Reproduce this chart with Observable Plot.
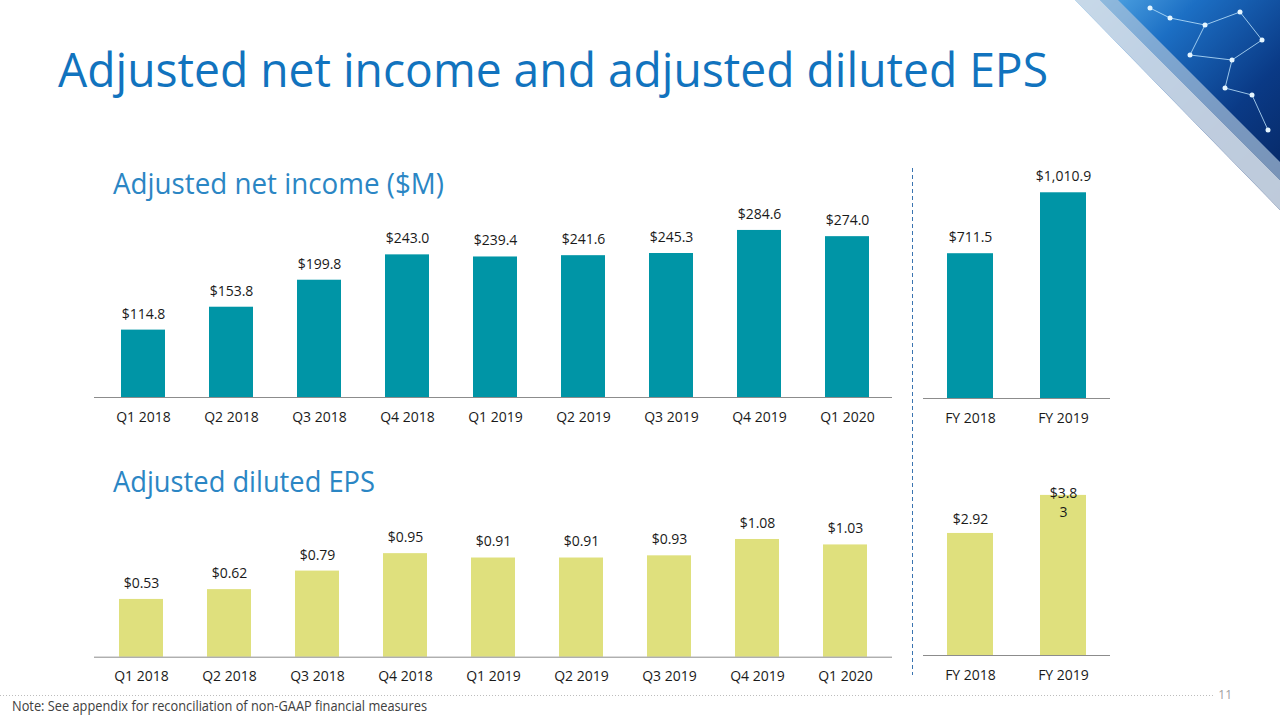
<!DOCTYPE html>
<html>
<head>
<meta charset="utf-8">
<script src="https://cdn.jsdelivr.net/npm/d3@7"></script>
<script src="https://cdn.jsdelivr.net/npm/@observablehq/plot@0.6"></script>
<style>
  html, body { margin: 0; padding: 0; background: #fff; }
  #stage { position: relative; width: 1280px; height: 720px; overflow: hidden; background: #fff; font-family: "Open Sans", sans-serif; }
  .chart { position: absolute; }
  #overlay { position: absolute; left: 0; top: 0; }
</style>
</head>
<body>
<div id="stage">
  <svg id="overlay" width="1280" height="720"></svg>
</div>
<script>
// ---- data ----
const quarters = ["Q1 2018", "Q2 2018", "Q3 2018", "Q4 2018", "Q1 2019", "Q2 2019", "Q3 2019", "Q4 2019", "Q1 2020"];
const netIncomeQ = [114.8, 153.8, 199.8, 243.0, 239.4, 241.6, 245.3, 284.6, 274.0];
const years = ["FY 2018", "FY 2019"];
const netIncomeFY = [711.5, 1010.9];
const epsQ = [0.53, 0.62, 0.79, 0.95, 0.91, 0.91, 0.93, 1.08, 1.03];
const epsFY = [2.92, 3.83];
const epsFYLabels = ["$2.92", "$3.8\n3"];

const titleText = "Adjusted net income and adjusted diluted EPS";
const subtitleNI = "Adjusted net income ($M)";
const subtitleEPS = "Adjusted diluted EPS";
const noteText = "Note: See appendix for reconciliation of non-GAAP financial measures";
const pageNumber = "11";

const TEAL = "#0095A6";
const LIME = "#DFE07D";
const fmtM = v => "$" + d3.format(",.1f")(v);
const fmtE = v => "$" + d3.format(".2f")(v);

const stage = document.getElementById("stage");

function barChart({cats, vals, labels, fill, left, top, width, height, xRange, pad, base, ymax, k, labelDy, tickDy, labelFilter, extraMarks}) {
  const data = cats.map((c, i) => ({cat: c, value: vals[i], label: labels[i]}));
  const chart = Plot.plot({
    width, height,
    marginLeft: 0, marginRight: 0, marginTop: 0, marginBottom: 0,
    style: {fontFamily: "Open Sans", fontSize: "14px", color: "#1a1a1a", background: "transparent", overflow: "visible"},
    x: {domain: cats, range: xRange, paddingInner: pad, paddingOuter: pad / 2, label: null, axis: null},
    y: {domain: [0, ymax], range: [base, base - ymax * k], axis: null},
    marks: [
      Plot.barY(data, {x: "cat", y: "value", fill}),
      Plot.ruleY([0], {stroke: "#8c8c8c", strokeWidth: 1}),
      // category tick labels under the baseline
      Plot.text(data, {x: "cat", y: () => 0, text: "cat", dy: tickDy, lineAnchor: "middle", fontSize: 14, fill: "#1a1a1a"}),
      Plot.text(labelFilter ? data.filter(labelFilter) : data, {x: "cat", y: "value", text: "label", dy: labelDy, lineAnchor: "middle", fontSize: 14, fill: "#1a1a1a"}),
      ...(extraMarks ? extraMarks(data) : [])
    ]
  });
  chart.classList.add("chart");
  chart.style.left = left + "px";
  chart.style.top = top + "px";
  stage.appendChild(chart);
}

// Quarterly net income
barChart({cats: quarters, vals: netIncomeQ, labels: netIncomeQ.map(fmtM), fill: TEAL,
  left: 94, top: 180, width: 798, height: 260, xRange: [4.5, 797], pad: 0.495,
  base: 217, ymax: 300, k: 0.587, labelDy: -16, tickDy: 20});

// FY net income
barChart({cats: years, vals: netIncomeFY, labels: netIncomeFY.map(fmtM), fill: TEAL,
  left: 923, top: 150, width: 187, height: 290, xRange: [0.5, 186.5], pad: 0.505,
  base: 248, ymax: 1100, k: 0.2035, labelDy: -16, tickDy: 20});

// Quarterly EPS
barChart({cats: quarters, vals: epsQ, labels: epsQ.map(fmtE), fill: LIME,
  left: 94, top: 500, width: 798, height: 190, xRange: [0.2, 797.3], pad: 0.495,
  base: 156.7, ymax: 1.2, k: 109, labelDy: -16, tickDy: 19});

// FY EPS
barChart({cats: years, vals: epsFY, labels: epsFYLabels, fill: LIME,
  left: 923, top: 470, width: 187, height: 220, xRange: [0.5, 186.5], pad: 0.505,
  base: 185, ymax: 4, k: 41.8, labelDy: -14, tickDy: 20, labelFilter: d => d.cat === "FY 2018",
  extraMarks: data => [
    Plot.text(data.filter(d => d.cat === "FY 2019"), {x: "cat", y: "value", text: "label", dy: -11, lineAnchor: "top", lineHeight: 1.35, fontSize: 14, fill: "#1a1a1a"})
  ]});

// ---- overlay: titles, separators, decoration ----
const svg = d3.select("#overlay");
const defs = svg.append("defs");
const g1 = defs.append("linearGradient").attr("id", "deco").attr("x1", "0").attr("y1", "0").attr("x2", "1").attr("y2", "1");
g1.append("stop").attr("offset", "0").attr("stop-color", "#5fb4ec");
g1.append("stop").attr("offset", "0.3").attr("stop-color", "#1c6fc4");
g1.append("stop").attr("offset", "0.65").attr("stop-color", "#0a3a86");
g1.append("stop").attr("offset", "1").attr("stop-color", "#06245e");

svg.append("polygon").attr("points", "1075,0 1280,0 1280,210").attr("fill", "url(#deco)");
svg.append("polygon").attr("points", "1075,0 1100,0 1280,180 1280,210").attr("fill", "#d3dde8").attr("opacity", 0.9);
svg.append("polygon").attr("points", "1100,0 1118,0 1280,162 1280,180").attr("fill", "#a9c2da").attr("opacity", 0.7);
const nodes = [[1170,18],[1205,25],[1240,12],[1190,55],[1232,60],[1262,40],[1252,95],[1268,130],[1225,88],[1150,8]];
const links = [[0,1],[1,2],[1,3],[3,4],[4,5],[4,8],[8,6],[6,7],[2,5],[9,0]];
links.forEach(([a,b]) => svg.append("line").attr("x1", nodes[a][0]).attr("y1", nodes[a][1]).attr("x2", nodes[b][0]).attr("y2", nodes[b][1]).attr("stroke", "#bfe6ff").attr("stroke-width", 1).attr("opacity", 0.8));
nodes.forEach(([x,y]) => svg.append("circle").attr("cx", x).attr("cy", y).attr("r", 2.5).attr("fill", "#e6f6ff"));

// title + subtitles
svg.append("text").attr("x", 58).attr("y", 87).attr("font-family", "Open Sans").attr("font-size", 47)
  .attr("fill", "#1173BE").attr("textLength", 990).attr("lengthAdjust", "spacingAndGlyphs").text(titleText);
svg.append("text").attr("x", 113).attr("y", 194).attr("font-family", "Open Sans").attr("font-size", 29)
  .attr("fill", "#2B86C4").attr("textLength", 331).attr("lengthAdjust", "spacingAndGlyphs").text(subtitleNI);
svg.append("text").attr("x", 113).attr("y", 492).attr("font-family", "Open Sans").attr("font-size", 29)
  .attr("fill", "#2B86C4").attr("textLength", 262).attr("lengthAdjust", "spacingAndGlyphs").text(subtitleEPS);

// vertical dashed separator
svg.append("line").attr("x1", 912.5).attr("x2", 912.5).attr("y1", 168).attr("y2", 675)
  .attr("stroke", "#3a74b0").attr("stroke-width", 1).attr("stroke-dasharray", "4 3");

// bottom dotted line
svg.append("line").attr("x1", 0).attr("x2", 1215).attr("y1", 695.5).attr("y2", 695.5)
  .attr("stroke", "#bdbdbd").attr("stroke-width", 1).attr("stroke-dasharray", "1 2");

// note + page number
svg.append("text").attr("x", 12).attr("y", 711).attr("font-family", "Open Sans").attr("font-size", 14)
  .attr("fill", "#404040").attr("textLength", 415).attr("lengthAdjust", "spacingAndGlyphs").text(noteText);
svg.append("text").attr("x", 1232).attr("y", 699).attr("text-anchor", "end").attr("font-family", "Open Sans").attr("font-size", 12)
  .attr("fill", "#a0a0a0").text(pageNumber);
</script>
</body>
</html>
